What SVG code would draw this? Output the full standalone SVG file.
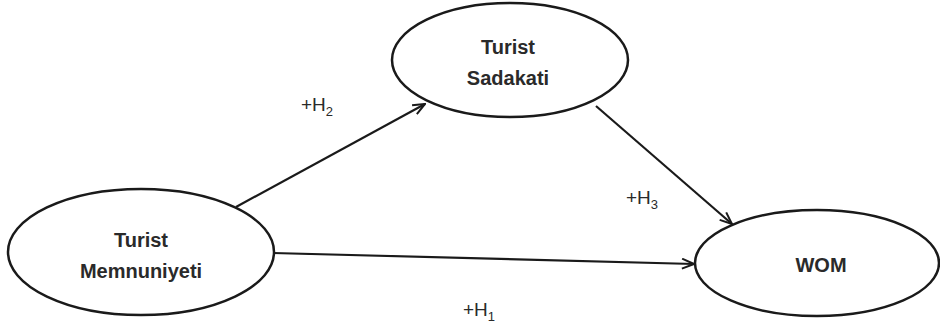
<svg xmlns="http://www.w3.org/2000/svg" width="940" height="328" viewBox="0 0 940 328">
<style>
.node ellipse{fill:#fff;stroke:#1a1a1a;stroke-width:2.5}
.nt{font-family:"Liberation Sans",Arial,sans-serif;font-weight:bold;font-size:20px;fill:#2a2a2a;text-anchor:middle}
.lbl{font-family:"Liberation Sans",Arial,sans-serif;font-size:19px;fill:#2a2a2a}
.sub{font-size:13px}
.edge{stroke:#1a1a1a;stroke-width:2.2;fill:none;marker-end:url(#arr)}
</style>
<defs>
<marker id="arr" viewBox="0 0 14 12" refX="13" refY="6" markerWidth="14" markerHeight="12" markerUnits="userSpaceOnUse" orient="auto">
<path d="M1,1 L13,6 L1,11" fill="none" stroke="#1a1a1a" stroke-width="2"/>
</marker>
</defs>
<rect width="940" height="328" fill="#fff"/>
<g id="connectors">
<line class="edge" x1="236" y1="207" x2="425" y2="104"/>
<line class="edge" x1="596" y1="106" x2="732" y2="224"/>
<line class="edge" x1="273" y1="253" x2="694" y2="264"/>
</g>
<g id="sadakati" class="node">
<ellipse cx="510" cy="60" rx="118" ry="57"/>
<text class="nt" x="508" y="54">Turist</text>
<text class="nt" x="508" y="85">Sadakati</text>
</g>
<g id="memnuniyeti" class="node">
<ellipse cx="141" cy="252" rx="133" ry="63"/>
<text class="nt" x="141" y="247">Turist</text>
<text class="nt" x="141" y="278">Memnuniyeti</text>
</g>
<g id="wom" class="node">
<ellipse cx="817" cy="263" rx="122" ry="53"/>
<text class="nt" x="821" y="272">WOM</text>
</g>
<g id="labels">
<text class="lbl" x="301" y="111">+H<tspan class="sub" dy="5">2</tspan></text>
<text class="lbl" x="626" y="204">+H<tspan class="sub" dy="5">3</tspan></text>
<text class="lbl" x="463" y="316">+H<tspan class="sub" dy="5">1</tspan></text>
</g>
</svg>
